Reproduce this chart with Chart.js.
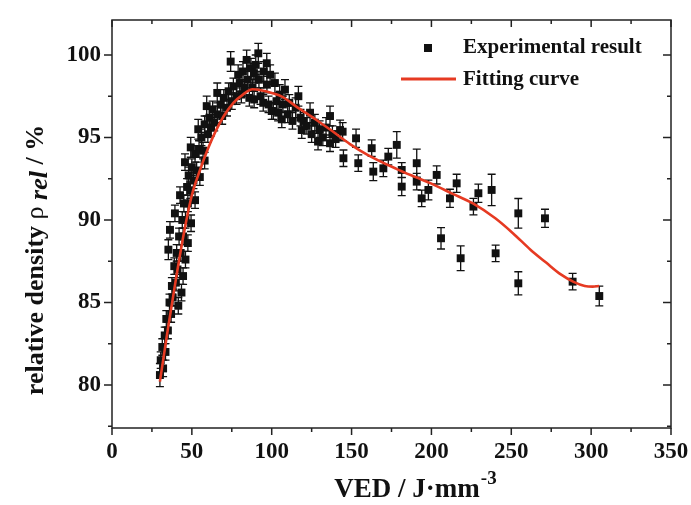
<!DOCTYPE html>
<html lang="en">
<head>
    <meta charset="UTF-8">
    <title>Relative density vs VED</title>
    <script src="https://cdn.jsdelivr.net/npm/chart.js"></script>
    <style>
        html, body { margin: 0; padding: 0; background: #fff; }
        .wrap { width: 691px; height: 505px; }
    </style>
</head>
<body>
    <div class="wrap"><canvas id="chart" width="691" height="505"></canvas></div>

    <script>
        // measured points (VED in J/mm^3, relative density in %)
        const vedData = [
            30, 30.5, 31.5, 32, 33, 33.5, 34, 35, 35.3, 36, 36.3, 37, 37.5, 38, 39, 39.4, 40, 40.5, 41, 42,
            42.6, 43, 44, 44.5, 45, 45.7, 46, 47, 47.5, 48, 49, 49.3, 50, 51, 52, 53, 54, 54.5, 56, 57,
            58, 59.3, 60, 61, 62, 63, 64, 65.9, 66, 68, 69, 70, 72, 73, 74.3, 75, 76, 78, 79, 80,
            81, 82, 83, 84.3, 85, 86, 87, 88, 88.9, 89, 90, 91.6, 92, 93, 94.7, 95, 96.9, 97, 98, 99,
            100, 101, 102, 103, 104, 105, 106.3, 107, 108.3, 110, 111, 113, 115, 116.7, 118, 118.8, 120, 122, 124, 125,
            127, 129, 130, 132, 134, 136.5, 136.5, 138, 140, 142.8,
            41.5, 43.5, 44.5, 46, 47.5, 49.5, 52, 55, 58,
            144.4, 152.8, 144.9, 154.2, 162.6, 163.6, 169.9, 173, 178.3, 181.4, 181.4, 190.8, 190.8, 193.9, 198.1,
            203.3, 206, 211.6, 215.8, 218.3, 226.3, 229.4, 237.7, 240.2, 254.4, 254.4, 271.1, 288.4, 305.1
        ];
        const densityData = [
            80.6, 81.5, 82.3, 81.0, 83.0, 82.0, 84.0, 83.3, 88.2, 85.0, 89.4, 84.3, 86.0, 85.3, 87.2, 90.4, 86.2, 88.0, 87.0, 89.0,
            91.5, 88.0, 90.0, 89.0, 91.0, 93.5, 90.0, 92.0, 91.0, 92.7, 91.8, 94.4, 93.2, 92.4, 94.0, 93.0, 95.5, 94.3, 95.0, 94.2,
            95.8, 96.9, 95.2, 96.2, 95.6, 96.7, 95.9, 97.7, 96.4, 97.0, 96.3, 97.4, 96.8, 97.8, 99.6, 97.2, 98.1, 97.5, 98.8, 98.3,
            97.6, 99.0, 98.0, 99.7, 98.5, 97.4, 99.2, 98.0, 98.9, 97.3, 99.4, 100.1, 98.5, 97.5, 97.1, 99.0, 99.5, 98.2, 97.0, 98.8,
            96.6, 96.6, 98.3, 97.2, 96.5, 97.6, 96.1, 97.0, 97.9, 96.4, 97.1, 96.0, 96.8, 97.5, 96.2, 95.45, 96.0, 95.7, 96.5, 95.2,
            95.9, 94.75, 95.5, 95.0, 95.6, 96.3, 94.65, 95.2, 94.9, 95.45,
            84.8, 85.6, 86.6, 87.6, 88.6, 89.8, 91.2, 92.6, 93.6,
            95.35, 94.95, 93.74, 93.44, 94.35, 92.93, 93.13, 93.84, 94.55, 93.03, 92.02, 93.44, 92.32, 91.31, 91.82,
            92.73, 88.89, 91.31, 92.22, 87.68, 90.81, 91.62, 91.82, 87.98, 90.4, 86.16, 90.1, 86.26, 85.39
        ];
        const errData = [
            0.7, 0.5, 0.5, 0.5, 0.5, 0.5, 0.5, 0.5, 0.6, 0.5, 0.5, 0.5, 0.5, 0.5, 0.5, 0.5, 0.5, 0.5, 0.5, 0.5,
            0.5, 0.5, 0.5, 0.5, 0.5, 0.5, 0.5, 0.5, 0.5, 0.5, 0.5, 0.6, 0.5, 0.5, 0.5, 0.5, 0.6, 0.5, 0.5, 0.5,
            0.5, 0.6, 0.5, 0.5, 0.5, 0.5, 0.5, 0.6, 0.5, 0.5, 0.5, 0.5, 0.5, 0.5, 0.6, 0.5, 0.5, 0.5, 0.6, 0.5,
            0.5, 0.6, 0.5, 0.6, 0.5, 0.5, 0.6, 0.5, 0.6, 0.5, 0.6, 0.6, 0.5, 0.5, 0.5, 0.6, 0.6, 0.5, 0.5, 0.6,
            0.5, 0.5, 0.6, 0.5, 0.5, 0.6, 0.5, 0.5, 0.6, 0.5, 0.5, 0.5, 0.6, 0.6, 0.5, 0.5, 0.5, 0.5, 0.6, 0.5,
            0.5, 0.5, 0.5, 0.5, 0.6, 0.6, 0.5, 0.5, 0.5, 0.6,
            0.5, 0.5, 0.5, 0.5, 0.5, 0.5, 0.5, 0.5, 0.5,
            0.55, 0.55, 0.5, 0.5, 0.5, 0.55, 0.5, 0.5, 0.8, 0.45, 0.55, 0.85, 0.5, 0.5, 0.6,
            0.55, 0.65, 0.55, 0.55, 0.75, 0.5, 0.55, 0.95, 0.5, 0.9, 0.7, 0.55, 0.5, 0.6
        ];

        // fitted curve
        const fitVed = [30, 35, 40, 45, 50, 55, 60, 65, 70, 76, 82, 88, 94, 100, 107, 115, 128, 137, 149, 160,
                        178, 190, 200, 213, 226, 240, 251, 262, 272, 281, 289, 296, 301, 305];
        const fitDensity = [80.2, 83.4, 86.4, 89.2, 91.5, 93.0, 94.3, 95.4, 96.3, 97.1, 97.6, 97.92, 97.85, 97.7, 97.45, 96.9, 96.06, 95.45, 94.6, 93.95,
                            93.1, 92.6, 92.2, 91.6, 91.0, 90.1, 89.2, 88.2, 87.4, 86.7, 86.25, 86.0, 85.96, 86.0];

        const xTicks = [0, 50, 100, 150, 200, 250, 300, 350];
        const yTicks = [80, 85, 90, 95, 100];

        const serif = '"Liberation Serif", "Times New Roman", serif';

        // error bars under the squares
        const errorBars = {
            id: 'errorBars',
            beforeDatasetsDraw(chart) {
                const { ctx, scales: { x, y } } = chart;
                ctx.save();
                ctx.strokeStyle = '#111';
                ctx.lineWidth = 1.3;
                vedData.forEach((v, i) => {
                    const px = x.getPixelForValue(v);
                    const top = y.getPixelForValue(densityData[i] + errData[i]);
                    const bot = y.getPixelForValue(densityData[i] - errData[i]);
                    ctx.beginPath();
                    ctx.moveTo(px, top); ctx.lineTo(px, bot);
                    ctx.moveTo(px - 4, top); ctx.lineTo(px + 4, top);
                    ctx.moveTo(px - 4, bot); ctx.lineTo(px + 4, bot);
                    ctx.stroke();
                });
                ctx.restore();
            }
        };

        // frame, tick marks, legend and axis titles
        const frame = {
            id: 'frame',
            afterDraw(chart) {
                const { ctx, chartArea: a, scales: { x, y } } = chart;
                ctx.save();
                ctx.strokeStyle = '#222';
                ctx.lineWidth = 1.5;
                ctx.strokeRect(a.left, a.top, a.right - a.left, a.bottom - a.top);

                ctx.beginPath();
                for (let v = 0; v <= 350; v += 25) {
                    const px = x.getPixelForValue(v);
                    const len = v % 50 === 0 ? 7 : 4;
                    ctx.moveTo(px, a.bottom); ctx.lineTo(px, a.bottom + len);
                    ctx.moveTo(px, a.top); ctx.lineTo(px, a.top + len);
                }
                for (let v = 77.5; v <= 102; v += 2.5) {
                    const py = y.getPixelForValue(v);
                    const len = v % 5 === 0 ? 8 : 4;
                    ctx.moveTo(a.left, py); ctx.lineTo(a.left - len, py);
                    ctx.moveTo(a.right, py); ctx.lineTo(a.right - len, py);
                }
                ctx.stroke();

                // legend
                ctx.fillStyle = '#111';
                ctx.fillRect(424, 44, 8, 8);
                ctx.strokeStyle = '#e63a22';
                ctx.lineWidth = 3;
                ctx.beginPath();
                ctx.moveTo(401, 79); ctx.lineTo(456, 79);
                ctx.stroke();
                ctx.font = 'bold 21px ' + serif;
                ctx.textBaseline = 'middle';
                ctx.textAlign = 'left';
                ctx.fillText('Experimental result', 463, 48);
                ctx.fillText('Fitting curve', 463, 80);

                // x title
                ctx.font = 'bold 27px ' + serif;
                ctx.textBaseline = 'alphabetic';
                const main = 'VED / J\u00b7mm';
                const w1 = ctx.measureText(main).width;
                ctx.font = 'bold 19px ' + serif;
                const w2 = ctx.measureText('-3').width;
                const sx = 415 - (w1 + w2) / 2;
                ctx.font = 'bold 27px ' + serif;
                ctx.fillText(main, sx, 497);
                ctx.font = 'bold 19px ' + serif;
                ctx.fillText('-3', sx + w1 + 1, 484);

                // y title
                ctx.translate(36, 260);
                ctx.rotate(-Math.PI / 2);
                const parts = [
                    ['bold 26px ' + serif, 'relative density '],
                    ['26px ' + serif, '\u03c1 '],
                    ['italic bold 26px ' + serif, 'rel'],
                    ['bold 26px ' + serif, ' / %']
                ];
                let total = 0;
                parts.forEach(p => { ctx.font = p[0]; total += ctx.measureText(p[1]).width; });
                let cx = -total / 2;
                ctx.textBaseline = 'middle';
                parts.forEach((p, i) => {
                    ctx.font = p[0];
                    ctx.fillText(p[1], cx, i === 2 ? 4 : 0);
                    cx += ctx.measureText(p[1]).width;
                });
                ctx.restore();
            }
        };

        new Chart(document.getElementById('chart').getContext('2d'), {
            type: 'scatter',
            data: {
                datasets: [
                    {
                        label: 'Fitting curve',
                        type: 'line',
                        data: fitVed.map((v, i) => ({ x: v, y: fitDensity[i] })),
                        borderColor: '#e63a22',
                        borderWidth: 2.6,
                        pointRadius: 0,
                        cubicInterpolationMode: 'monotone',
                        fill: false,
                        order: 0
                    },
                    {
                        label: 'Experimental result',
                        data: vedData.map((v, i) => ({ x: v, y: densityData[i] })),
                        pointStyle: 'rect',
                        pointRadius: 5.6,
                        backgroundColor: '#111',
                        borderColor: '#111',
                        borderWidth: 0,
                        order: 1
                    }
                ]
            },
            options: {
                responsive: false,
                animation: false,
                layout: { padding: { top: 20, right: 20, left: 0, bottom: 0 } },
                plugins: { legend: { display: false }, tooltip: { enabled: false } },
                scales: {
                    x: {
                        type: 'linear',
                        min: 0,
                        max: 350,
                        afterBuildTicks: s => { s.ticks = xTicks.map(v => ({ value: v })); },
                        afterFit: s => { s.height = 77; },
                        grid: { drawOnChartArea: false, color: 'transparent', tickLength: 8 },
                        border: { display: false },
                        ticks: { color: '#111', padding: 2, maxRotation: 0, font: { family: serif, size: 23, weight: 'bold' } }
                    },
                    y: {
                        min: 77.39,
                        max: 102.12,
                        afterBuildTicks: s => { s.ticks = yTicks.map(v => ({ value: v })); },
                        afterFit: s => { s.width = 112; },
                        grid: { drawOnChartArea: false, color: 'transparent', tickLength: 8 },
                        border: { display: false },
                        ticks: { color: '#111', padding: 3, font: { family: serif, size: 23, weight: 'bold' } }
                    }
                }
            },
            plugins: [errorBars, frame]
        });
    </script>
</body>
</html>
